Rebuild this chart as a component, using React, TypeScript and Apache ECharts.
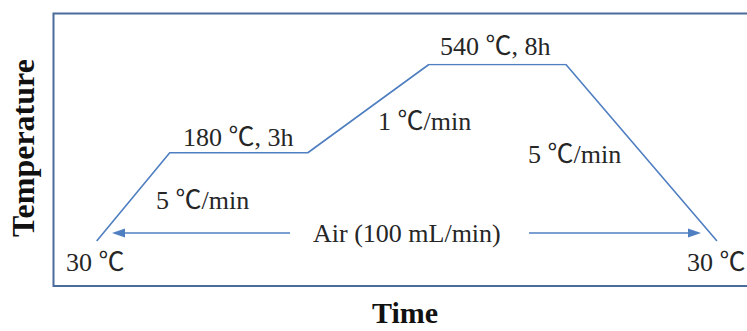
import React, { useEffect, useRef } from "react";
import * as echarts from "echarts";

// Calcination programme: schematic time positions (arbitrary units) and set-point temperatures
const stageTimes = [0, 7.3, 21.1, 33.2, 46.9, 62.0];
const stageTemps = ["30", "180", "180", "540", "540", "30"];
const tempLevels = ["30", "180", "540"];

// Annotation texts
const stepLabels = {
  startTemp: "30 ℃",
  hold1: "180 ℃, 3h",
  ramp1: "5 ℃/min",
  ramp2: "1 ℃/min",
  hold2: "540 ℃, 8h",
  cool: "5 ℃/min",
  endTemp: "30 ℃",
  gas: "Air (100 mL/min)",
};

const W = 747;
const H = 331;
const LINE = "#4f7fc0";
const FRAME = "#4a6b9c";
const INK = "#262626";
const SERIF = "'Liberation Serif', 'Times New Roman', 'Noto Sans CJK SC', serif";

function note(text: string, x: number, y: number) {
  return {
    type: "text",
    x,
    y,
    silent: true,
    style: {
      text,
      fill: INK,
      font: `26px ${SERIF}`,
      textAlign: "left",
      textVerticalAlign: "middle",
    },
  };
}

export default function App() {
  const ref = useRef<HTMLDivElement>(null);

  useEffect(() => {
    if (!ref.current) return;
    const chart = echarts.init(ref.current, null, { renderer: "svg" });
    const arrowY = 233;

    chart.setOption({
      animation: false,
      backgroundColor: "#ffffff",
      grid: { left: 96.7, right: 30, top: 64.5, bottom: 90 },
      xAxis: { type: "value", min: 0, max: 62, show: false },
      yAxis: { type: "category", data: tempLevels, boundaryGap: false, show: false },
      series: [
        {
          type: "line",
          data: stageTimes.map((t, i) => [t, stageTemps[i]]),
          symbol: "none",
          lineStyle: { color: LINE, width: 1.6 },
        },
      ],
      graphic: [
        // frame
        {
          type: "rect",
          silent: true,
          shape: { x: 53.5, y: 13.5, width: 705, height: 272.5 },
          style: { fill: "none", stroke: FRAME, lineWidth: 2 },
        },
        // air flow arrows
        {
          type: "line",
          silent: true,
          shape: { x1: 122, y1: arrowY, x2: 290, y2: arrowY },
          style: { stroke: LINE, lineWidth: 1.6 },
        },
        {
          type: "polygon",
          silent: true,
          shape: { points: [[112, arrowY], [125, arrowY - 4.5], [125, arrowY + 4.5]] },
          style: { fill: LINE },
        },
        {
          type: "line",
          silent: true,
          shape: { x1: 529, y1: arrowY, x2: 690, y2: arrowY },
          style: { stroke: LINE, lineWidth: 1.6 },
        },
        {
          type: "polygon",
          silent: true,
          shape: { points: [[701, arrowY], [688, arrowY - 4.5], [688, arrowY + 4.5]] },
          style: { fill: LINE },
        },
        note(stepLabels.gas, 313, arrowY),
        note(stepLabels.startTemp, 66, 262),
        note(stepLabels.hold1, 183, 137),
        note(stepLabels.ramp1, 156, 200),
        note(stepLabels.ramp2, 378, 121),
        note(stepLabels.hold2, 440, 46),
        note(stepLabels.cool, 528, 154),
        note(stepLabels.endTemp, 687, 262),
        // axis titles
        {
          type: "text",
          x: 23,
          y: 148,
          rotation: Math.PI / 2,
          silent: true,
          style: {
            text: "Temperature",
            fill: "#111",
            font: `bold 32px ${SERIF}`,
            textAlign: "center",
            textVerticalAlign: "middle",
          },
        },
        {
          type: "text",
          x: 405,
          y: 312,
          silent: true,
          style: {
            text: "Time",
            fill: "#111",
            font: `bold 30px ${SERIF}`,
            textAlign: "center",
            textVerticalAlign: "middle",
          },
        },
      ],
    });

    return () => chart.dispose();
  }, []);

  return (
    <div
      ref={ref}
      style={{ position: "fixed", left: 0, top: 0, width: W, height: H, background: "#fff" }}
    />
  );
}
